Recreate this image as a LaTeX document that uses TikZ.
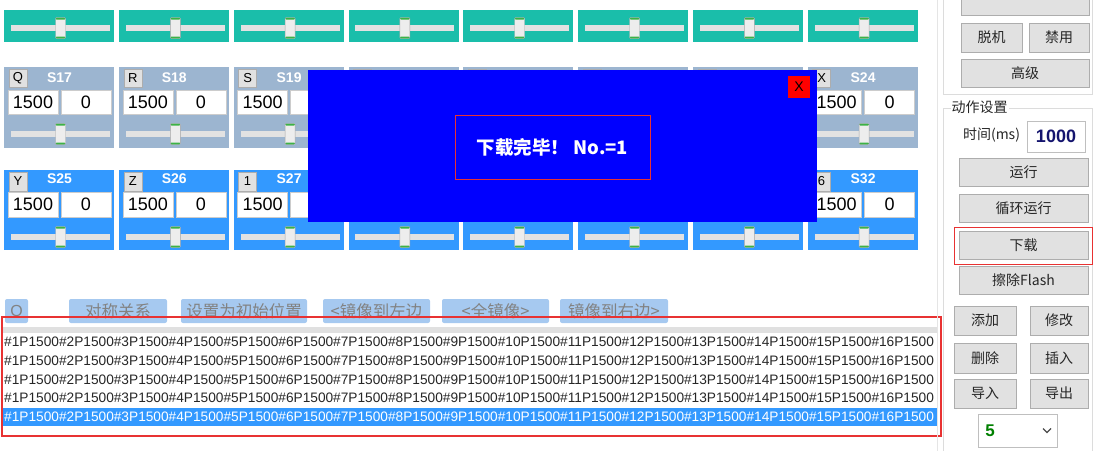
\documentclass[tikz,border=0pt]{standalone}
\usepackage{fontspec}
\setmainfont{Noto Sans CJK SC}
\newfontfamily\lat{Liberation Sans}
\usepackage{xcolor}
\usetikzlibrary{positioning, calc}

\definecolor{uiteal}{RGB}{26,190,170}
\definecolor{uigrey}{RGB}{156,181,208}
\definecolor{uiblue}{RGB}{51,153,255}
\definecolor{dlgblue}{RGB}{0,0,255}
\definecolor{btnfill}{RGB}{225,225,225}
\definecolor{btnline}{RGB}{173,173,173}
\definecolor{trackc}{RGB}{226,226,226}
\definecolor{thumbgreen}{RGB}{60,178,70}
\definecolor{tbblue}{RGB}{166,201,240}
\definecolor{tbtext}{RGB}{130,130,130}
\definecolor{hired}{RGB}{232,50,50}
\definecolor{navy}{RGB}{20,20,110}
\definecolor{gboxc}{RGB}{220,220,220}

\newcommand{\slider}[3]{%
  \node[track] (#1track) at (#2,#3) {};
  \node[thumb] (#1thumb) at (#1track) {};
}
\newcommand{\cmdline}{\#1P1500\#2P1500\#3P1500\#4P1500\#5P1500\#6P1500\#7P1500\#8P1500\#9P1500\#10P1500\#11P1500\#12P1500\#13P1500\#14P1500\#15P1500\#16P1500}

\begin{document}
\begin{tikzpicture}[x=1pt, y=-1pt,
  panel/.style={anchor=north west, inner sep=0, minimum width=110pt},
  track/.style={fill=trackc, inner sep=0, minimum width=99pt, minimum height=6pt},
  thumb/.style={fill=white!93!black, draw=black!35, rounded corners=1pt, inner sep=0,
    minimum width=10pt, minimum height=21pt,
    path picture={
      \fill[thumbgreen] (path picture bounding box.north west) rectangle ([yshift=-2pt]path picture bounding box.north east);
      \fill[thumbgreen] (path picture bounding box.south west) rectangle ([yshift=2pt]path picture bounding box.south east);}},
  keybtn/.style={fill=btnfill, draw=btnline, inner sep=0, minimum width=18pt, minimum height=18pt,
    font=\lat\fontsize{13}{13}\selectfont},
  stitle/.style={text=white, inner sep=0, font=\lat\bfseries\fontsize{14}{14}\selectfont},
  valbox/.style={fill=white, draw=black!20, inner sep=0, minimum width=50pt, minimum height=24pt,
    font=\lat\fontsize{18}{18}\selectfont},
  tbbtn/.style={fill=tbblue, rounded corners=2pt, inner sep=0, minimum height=24pt, text=tbtext,
    font=\fontsize{16.5}{16.5}\selectfont},
  codeline/.style={anchor=west, inner sep=0, text=black!85, font=\lat\fontsize{13.7}{14}\selectfont},
  rbtn/.style={fill=btnfill, draw=btnline, inner sep=0, text=black!85, font=\fontsize{14}{14}\selectfont},
  gbox/.style={draw=gboxc, line width=1pt}]
\useasboundingbox (0,0) rectangle (1094,451);

% servo rows
\foreach \i in {0,...,7}{
  \pgfmathsetmacro{\px}{4+\i*114.8}
  \node[panel, fill=uiteal, minimum height=32pt] (top\i) at (\px,10) {};
  \slider{top\i}{\px+56.5}{28}
}
\foreach \k [count=\n from 0] in {Q,R,S,T,U,V,W,X}{
  \pgfmathsetmacro{\px}{4+\n*114.8}
  \pgfmathtruncatemacro{\sn}{17+\n}
  \node[panel, fill=uigrey, minimum height=81pt] (mid\n) at (\px,67) {};
  \node[keybtn] (midkey\n) at (\px+14,78) {\k};
  \node[stitle] (midname\n) at (\px+55.5,78) {S\sn};
  \node[valbox] (midpos\n) at (\px+29,102) {1500};
  \node[valbox] (midoff\n) at (\px+82,102) {0};
  \slider{mid\n}{\px+56.5}{134}
}
\foreach \k [count=\n from 0] in {Y,Z,1,2,3,4,5,6}{
  \pgfmathsetmacro{\px}{4+\n*114.8}
  \pgfmathtruncatemacro{\sn}{25+\n}
  \node[panel, fill=uiblue, minimum height=80pt] (low\n) at (\px,170) {};
  \node[keybtn, minimum height=19pt] (lowkey\n) at (\px+14,181.5) {\k};
  \node[stitle] (lowname\n) at (\px+55.5,179) {S\sn};
  \node[valbox, minimum height=25pt] (lowpos\n) at (\px+29,204.5) {1500};
  \node[valbox, minimum height=25pt] (lowoff\n) at (\px+82,204.5) {0};
  \slider{low\n}{\px+56.5}{237}
}

% message box
\node[anchor=north west, fill=dlgblue, inner sep=0, minimum width=509pt, minimum height=152pt] (dlg) at (308,70) {};
\node[fill=red, inner sep=0, minimum width=22pt, minimum height=22pt, font=\lat\fontsize{14}{14}\selectfont] (dlgclose) at (799,87) {X};
\node[draw=hired, line width=0.8pt, inner sep=0, minimum width=195pt, minimum height=64pt, text=white,
  font=\bfseries\fontsize{18.5}{18.5}\selectfont] (dlgmsg) at (552.5,147) {下载完毕！ No.=1};

% toolbar
\node[tbbtn, minimum width=23pt, font=\lat\fontsize{16}{16}\selectfont] (tbo) at (16.5,311) {O};
\node[tbbtn, minimum width=98pt] (tbsym) at (118,311) {对称关系};
\node[tbbtn, minimum width=126pt] (tbinit) at (244,311) {设置为初始位置};
\node[tbbtn, minimum width=107pt] (tbleft) at (376.5,311) {<镜像到左边};
\node[tbbtn, minimum width=107pt] (tball) at (495.5,311) {<全镜像>};
\node[tbbtn, minimum width=108pt] (tbright) at (614,311) {镜像到右边>};

% action list
\node[anchor=north west, fill=black!12, inner sep=0, minimum width=935pt, minimum height=6pt] (listbar) at (3,327) {};
\node[anchor=north west, fill=uiblue, inner sep=0, minimum width=935pt, minimum height=18pt] (listsel) at (3,408) {};
\node[codeline] (line1) at (4,342) {\cmdline};
\node[codeline] (line2) at (4,361) {\cmdline};
\node[codeline] (line3) at (4,379.5) {\cmdline};
\node[codeline] (line4) at (4,398) {\cmdline};
\node[codeline, text=white] (line5) at (4,417) {\cmdline};
\node[anchor=north west, draw=hired, line width=1.5pt, inner sep=0, minimum width=939pt, minimum height=119pt] (listframe) at (1,316) {};

% side panel
\draw[black!10] (937,0) -- (937,451);
\draw[gbox] (943,0) -- (943,94) -- (1092,94) -- (1092,0);
\draw[gbox] (951,108) -- (943,108) -- (943,451);
\draw[gbox] (1008,108) -- (1092,108) -- (1092,451);
\node[rbtn, minimum width=128pt, minimum height=17pt] (btntop) at (1025,6.5) {};
\node[rbtn, minimum width=61pt, minimum height=29pt] (btnoff) at (991.5,37.5) {脱机};
\node[rbtn, minimum width=60pt, minimum height=29pt] (btndis) at (1059,37.5) {禁用};
\node[rbtn, minimum width=128pt, minimum height=28pt] (btnadv) at (1025,73) {高级};
\node[fill=white, inner sep=1pt, text=black!85, font=\fontsize{14}{14}\selectfont] (actset) at (979.5,107) {动作设置};
\node[inner sep=0, text=black!85, font=\fontsize{14}{14}\selectfont] (timelbl) at (991.5,135) {时间(ms)};
\node[fill=white, draw=black!25, inner sep=0, minimum width=58pt, minimum height=31pt, text=navy,
  font=\lat\bfseries\fontsize{18}{18}\selectfont] (timebox) at (1056,136.5) {1000};
\node[rbtn, minimum width=129pt, minimum height=28pt] (btnrun) at (1023.5,172) {运行};
\node[rbtn, minimum width=129pt, minimum height=28pt] (btnloop) at (1023.5,208) {循环运行};
\node[draw=hired, line width=1pt, inner sep=0, minimum width=138pt, minimum height=37pt] (dlmark) at (1023,245.5) {};
\node[rbtn, minimum width=129pt, minimum height=28pt] (btndl) at (1023.5,245) {下载};
\node[rbtn, minimum width=129pt, minimum height=28pt] (btnerase) at (1023.5,280) {擦除Flash};
\node[rbtn, minimum width=62pt, minimum height=29pt] (btnadd) at (985,320.5) {添加};
\node[rbtn, minimum width=58pt, minimum height=29pt] (btnmod) at (1059,320.5) {修改};
\node[rbtn, minimum width=62pt, minimum height=30pt] (btndel) at (985,358) {删除};
\node[rbtn, minimum width=58pt, minimum height=30pt] (btnins) at (1059,358) {插入};
\node[rbtn, minimum width=62pt, minimum height=29pt] (btnimp) at (985,393.5) {导入};
\node[rbtn, minimum width=58pt, minimum height=29pt] (btnexp) at (1059,393.5) {导出};
\node[fill=white, draw=black!25, inner sep=0, minimum width=79pt, minimum height=33pt] (speed) at (1017.5,430.5) {};
\node[inner sep=0, text=green!50!black, font=\lat\bfseries\fontsize{17}{17}\selectfont] (speedval) at (990,430.5) {5};
\draw[black!70, line width=1.2pt] (1043,428.5) -- (1047,432.5) -- (1051,428.5);
\end{tikzpicture}
\end{document}
